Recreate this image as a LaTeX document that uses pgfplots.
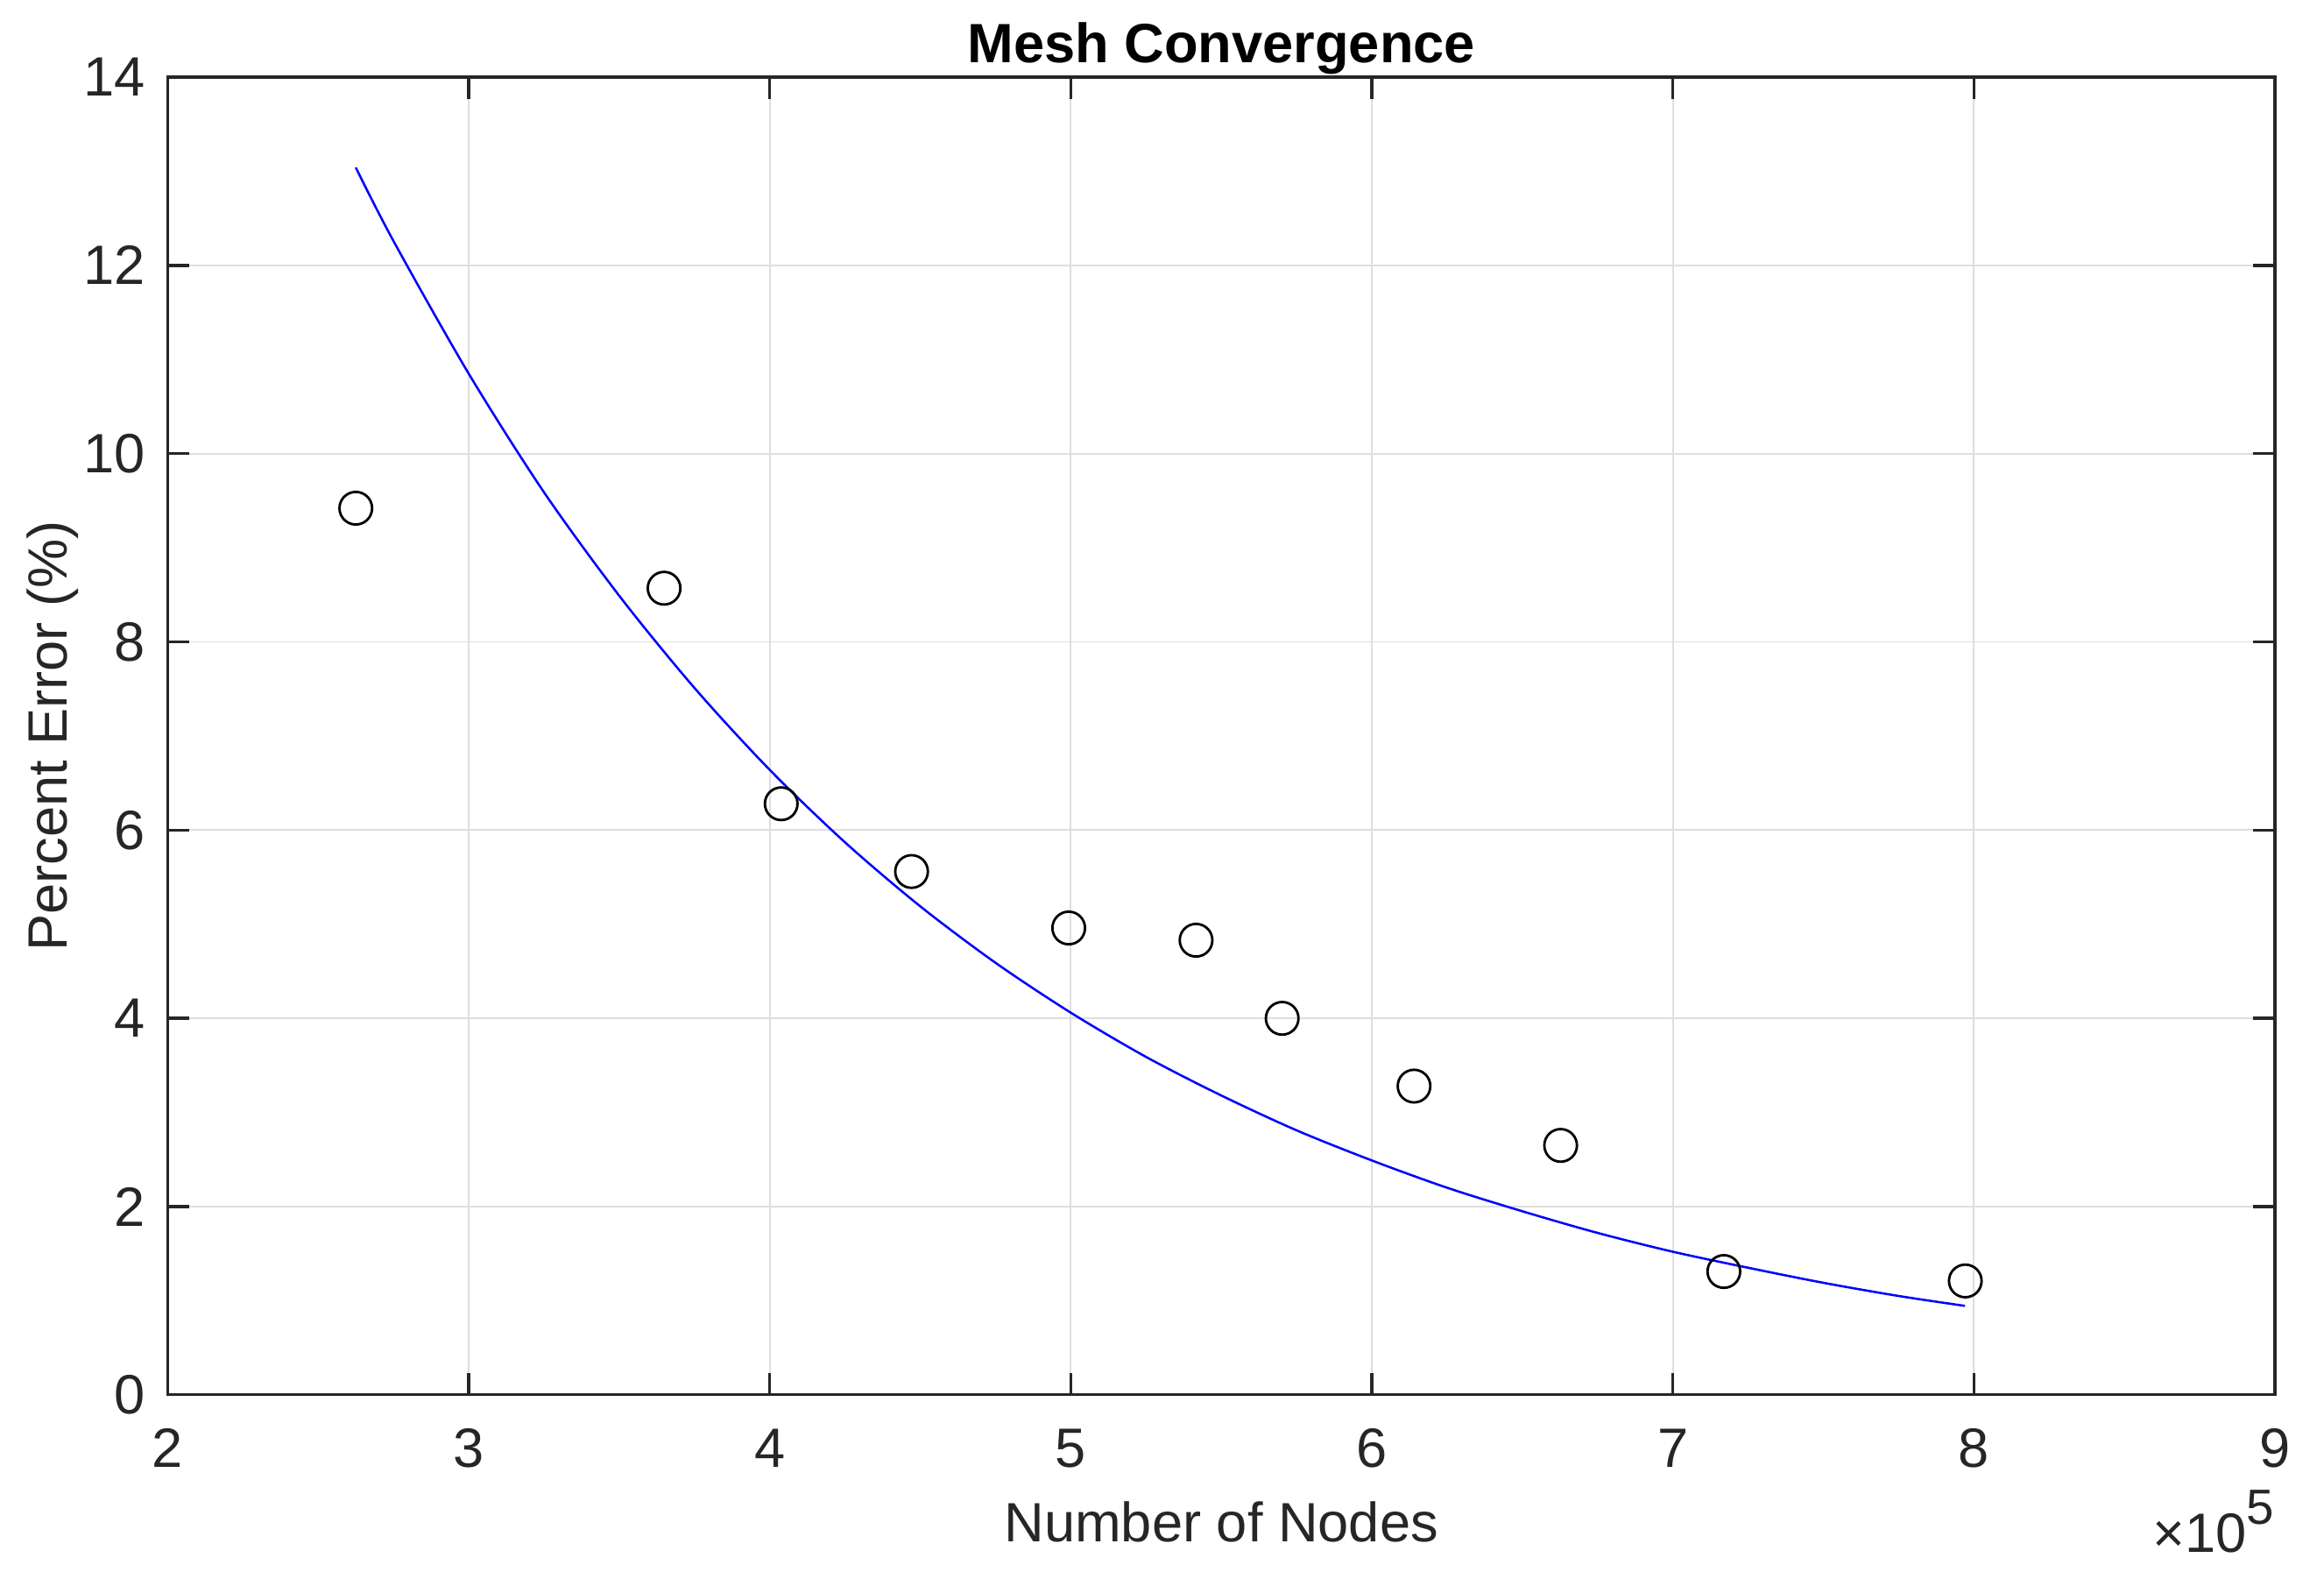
\documentclass[border=0pt]{standalone}
\usepackage{fontspec}
\setmainfont{Liberation Sans}
\usepackage{pgfplots}
\pgfplotsset{compat=1.18}
\definecolor{axgray}{gray}{0.15}
\definecolor{gridgray}{gray}{0.87}
\newcommand{\fs}{\fontsize{11.2pt}{13pt}\selectfont}
\begin{document}
\begin{tikzpicture}
\path[use as bounding box] (-33.9pt,-35.7pt) rectangle (436.1pt,282.0pt);
\begin{axis}[
  at={(0,0)}, anchor=south west,
  scale only axis,
  width=426.2pt, height=266.4pt,
  xmin=2, xmax=9, ymin=0, ymax=14,
  xtick={2,3,...,9}, ytick={0,2,...,14},
  grid=major,
  major grid style={gridgray, line width=0.35pt},
  axis line style={axgray, line width=0.6pt},
  tick style={axgray, line width=0.6pt},
  tickpos=both, tick align=inside,
  major tick length=4.4pt,
  /pgf/number format/assume math mode=true,
  ticklabel style={font=\fs, text=axgray},
  xticklabel style={anchor=base, yshift=-14.7pt},
  yticklabel style={anchor=east, xshift=-1pt},
  title={\bfseries Mesh Convergence},
  every axis title/.style={font=\fs, at={(axis description cs:0.5,1)}, anchor=base, yshift=3pt},
  xlabel={Number of Nodes},
  xlabel style={font=\fs, text=axgray, at={(axis description cs:0.5,0)}, anchor=base, yshift=-29.7pt},
  ylabel={Percent Error (\%)},
  ylabel style={font=\fs, text=axgray, at={(axis description cs:-0.0479,0.5)}, anchor=base},
  clip=false,
]
\addplot[blue, line width=0.45pt, smooth] coordinates {
(2.625,13.04) (2.75,12.26) (3.0,10.85) (3.25,9.59) (3.5,8.49) (3.75,7.51)
(4.0,6.64) (4.25,5.87) (4.5,5.19) (4.75,4.59) (5.0,4.06) (5.25,3.59)
(5.5,3.18) (5.75,2.81) (6.0,2.49) (6.25,2.20) (6.5,1.95) (6.75,1.72)
(7.0,1.52) (7.25,1.35) (7.5,1.19) (7.75,1.05) (7.97,0.945)
};
\addplot[only marks, mark=o, mark size=3.3pt, mark options={black, line width=0.5pt, fill=none}] coordinates {
(2.625,9.42) (3.649,8.57) (4.038,6.28) (4.471,5.56) (4.993,4.96) (5.416,4.83)
(5.702,4.00) (6.140,3.28) (6.627,2.65) (7.169,1.31) (7.971,1.21)
};
\node[font=\fs, text=axgray, anchor=base east, inner sep=0pt] at (axis description cs:1,0) [yshift=-31.8pt] {×10\raisebox{0.5em}{\fontsize{10pt}{12pt}\selectfont 5}};
\end{axis}
\end{tikzpicture}
\end{document}
